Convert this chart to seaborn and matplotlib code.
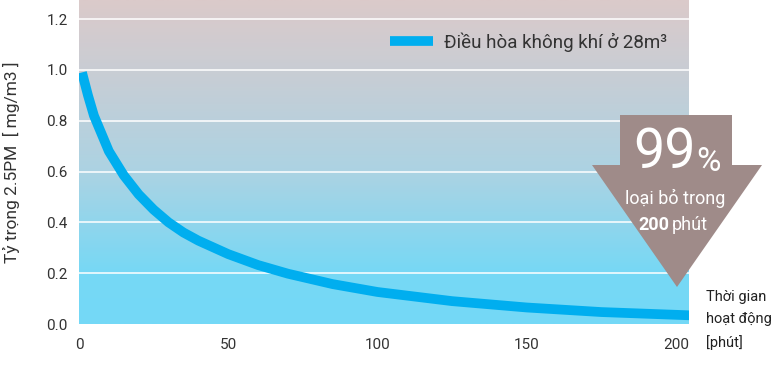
import numpy as np
import pandas as pd
import matplotlib
matplotlib.use("Agg")
import matplotlib.pyplot as plt
from matplotlib.colors import LinearSegmentedColormap
from matplotlib.patches import Polygon
import seaborn as sns

# values
minutes = [1, 3, 5, 10, 15, 20, 25, 30, 35, 40, 50, 60, 70, 85, 100, 125, 150, 175, 205]
density = [0.99, 0.90, 0.82, 0.68, 0.585, 0.51, 0.45, 0.40, 0.36, 0.328, 0.275, 0.232,
           0.198, 0.157, 0.126, 0.09, 0.065, 0.047, 0.034]
xticks = [0, 50, 100, 150, 200]
yticks = [0.0, 0.2, 0.4, 0.6, 0.8, 1.0, 1.2]
series_label = "Điều hòa không khí ở 28m³"

df = pd.DataFrame({"minutes": minutes, "density": density})

sns.set_style("white")
plt.rcParams["font.family"] = ["Roboto", "DejaVu Sans"]

W, H = 781, 369
fig = plt.figure(figsize=(W / 100, H / 100), dpi=100)
ax = fig.add_axes([79 / W, 45 / H, 610 / W, 324 / H])

xmax = 204.4
ymax = 1.275

# background gradient (pinkish grey at top to cyan at bottom)
grad = LinearSegmentedColormap.from_list(
    "bg",
    [(0.0, "#74d9f7"), (0.2 / ymax, "#76d8f5"), (0.6 / ymax, "#acd3e3"),
     (1.0 / ymax, "#c9cdd4"), (1.0, "#dbcaca")])
ax.imshow(np.linspace(0, 1, 256).reshape(-1, 1), cmap=grad, aspect="auto",
          origin="lower", extent=[0, xmax, 0, ymax], zorder=0)

for y in yticks[1:]:
    ax.axhline(y, color="white", lw=1.3, alpha=0.85, zorder=1)

sns.lineplot(data=df, x="minutes", y="density", ax=ax, color="#00aeef", lw=7,
             label=series_label, zorder=3, solid_capstyle="butt")

ax.set_xlim(0, xmax)
ax.set_ylim(0, ymax)
ax.set_xticks(xticks)
ax.set_yticks(yticks)
ax.set_yticklabels([f"{v:.1f}" for v in yticks])
ax.tick_params(axis="both", labelsize=11, labelcolor="#333333", color="#888888",
               length=5, width=0.8, direction="out", pad=3)
ax.tick_params(axis="x", pad=5)
for s in ax.spines.values():
    s.set_visible(False)
ax.set_xlabel("")
ax.set_ylabel("Tỷ trọng 2.5PM  [ mg/m3 ]", fontsize=12.5, color="#333333")
ax.yaxis.set_label_coords((20 - 79) / 610, 0.5)

leg = ax.legend(loc="center left", bbox_to_anchor=(390 / W, 1 - 42 / H),
                bbox_transform=fig.transFigure, frameon=False, fontsize=13.5,
                handlelength=2.3, handletextpad=0.6, borderpad=0, borderaxespad=0)
for h in leg.get_lines():
    h.set_linewidth(7)
for t in leg.get_texts():
    t.set_color("#333333")

# big downward arrow annotation (figure pixel coordinates)
pts = [(620, 115), (732, 115), (732, 165), (762, 165), (677, 287), (592, 165), (620, 165)]
arrow = Polygon([(x / W, 1 - y / H) for x, y in pts], closed=True,
                transform=fig.transFigure, facecolor="#9f8b89", edgecolor="none", zorder=5)
fig.patches.append(arrow)
fig.text(665 / W, 1 - 153 / H, "99", fontsize=40, color="white", ha="center",
         va="center", zorder=6)
fig.text(708 / W, 1 - 162 / H, "%", fontsize=24, color="white", ha="center",
         va="center", zorder=6)
fig.text(675 / W, 1 - 198 / H, "loại bỏ trong", fontsize=13, color="white",
         ha="center", va="center", zorder=6)
fig.text(638 / W, 1 - 225 / H, "200", fontsize=13, color="white", ha="left",
         va="center", fontweight="bold", zorder=6)
fig.text(672 / W, 1 - 225 / H, "phút", fontsize=13, color="white", ha="left",
         va="center", zorder=6)

fig.text(706 / W, 1 - 320 / H, "Thời gian\nhoạt động\n[phút]", fontsize=10.5,
         color="#222222", ha="left", va="center", linespacing=1.75)

fig.savefig("out.png", dpi=100)
